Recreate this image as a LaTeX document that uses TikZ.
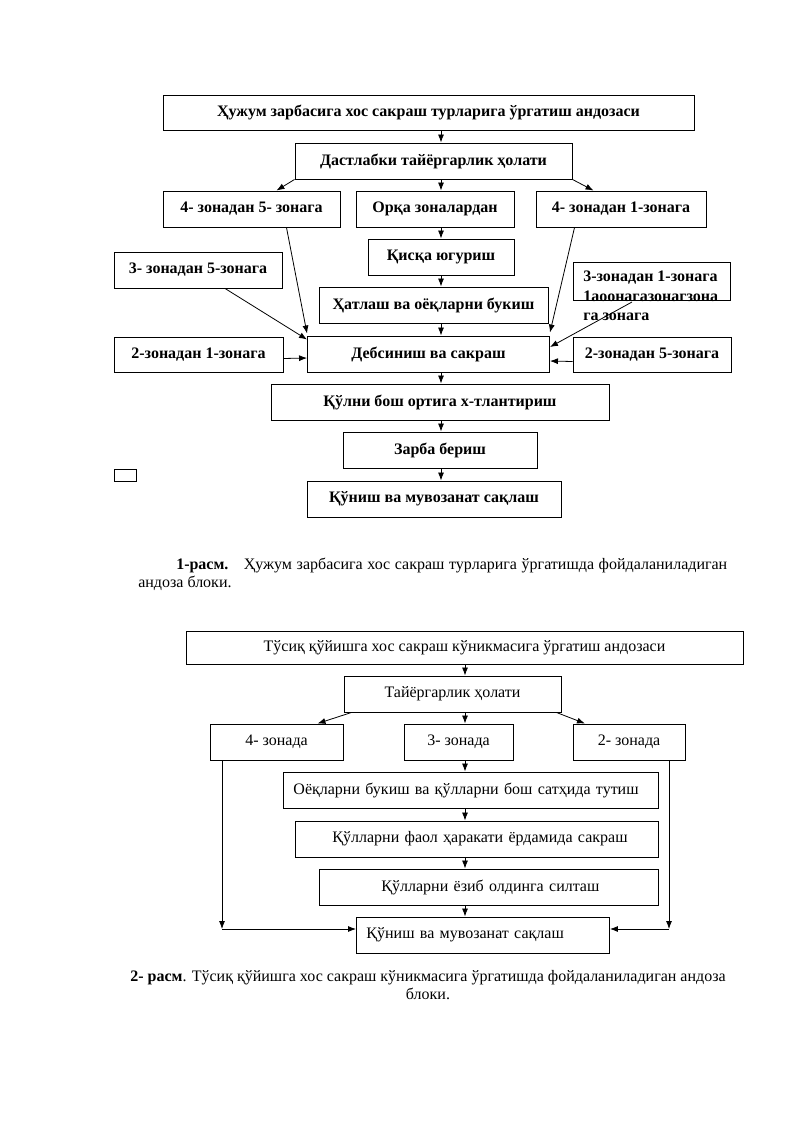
\documentclass[tikz,border=0pt]{standalone}
\usepackage{fontspec}
\setmainfont{Liberation Serif}
\usetikzlibrary{arrows.meta}

\newdimen\px
\px=0.75pt

\tikzset{
  box/.style={draw, line width=0.7pt, minimum height=36\px, inner sep=0pt},
  boxb/.style={box, font=\fontsize{12}{14}\selectfont\bfseries},
  boxl/.style={box, anchor=west, inner xsep=2\px, align=left},
  arr/.style={-{Latex[length=6pt,width=4.5pt]}, line width=0.6pt}
}

\begin{document}
\begin{tikzpicture}[x=0.75pt,y=-0.75pt,font=\fontsize{12}{14}\selectfont]
            \useasboundingbox (0,0) rectangle (800,1131);

            % 1-расм
            \node[boxb, minimum width=531\px, minimum height=35\px] (title) at (428.5,112.5) {Ҳужум зарбасига хос сакраш турларига ўргатиш андозаси};
            \node[boxb, minimum width=277\px] (dast) at (433.5,161) {Дастлабки тайёргарлик ҳолати};
            \node[boxb, minimum width=177\px] (z45) at (251.5,209) {4- зонадан 5- зонага};
            \node[boxb, minimum width=158\px] (orqa) at (435,209) {Орқа зоналардан};
            \node[boxb, minimum width=170\px] (z41) at (621,209) {4- зонадан 1-зонага};
            \node[boxb, minimum width=146\px] (qisqa) at (441,257) {Қисқа югуриш};
            \node[boxb, minimum width=168\px] (z35) at (198,270) {3- зонадан 5-зонага};
            \node[boxb, minimum width=229\px] (hatlash) at (433.5,305) {Ҳатлаш ва оёқларни букиш};
            \node[box, minimum width=157\px, minimum height=38\px] (z31) at (651.5,281) {};
            \node[anchor=north west, align=left, font=\fontsize{12}{14.5}\selectfont\bfseries, inner sep=0pt] (z31t) at (583,271) {3-зонадан 1-зонага\\1аоонагазонагзона\\га зонага};
            \node[boxb, minimum width=169\px, minimum height=35\px] (z21) at (198.5,354.5) {2-зонадан 1-зонага};
            \node[boxb, minimum width=242\px] (debs) at (428.5,354) {Дебсиниш ва сакраш};
            \node[boxb, minimum width=158\px, minimum height=35\px] (z25) at (652,354.5) {2-зонадан 5-зонага};
            \node[boxb, minimum width=338\px] (qulni) at (440,402) {Қўлни бош ортига х-тлантириш};
            \node[boxb, minimum width=194\px] (zarba) at (440,450) {Зарба бериш};
            \node[box, minimum width=22\px, minimum height=12\px] (bosh) at (125,475) {};
            \node[boxb, minimum width=254\px] (qunish) at (434,499) {Қўниш ва мувозанат сақлаш};

            \coordinate (axis) at (441,0);
            \coordinate (z31s) at (632,302);

            \draw[arr] (title.south -| axis) -- (dast.north -| axis);
            \draw[arr] (dast.south -| axis) -- (orqa.north -| axis);
            \draw[arr] (dast.south west) -- ([xshift=-64\px]z45.north east);
            \draw[arr] (dast.south east) -- ([xshift=58\px]z41.north west);
            \draw[arr] (orqa.south -| axis) -- (qisqa.north -| axis);
            \draw[arr] (qisqa.south -| axis) -- (hatlash.north -| axis);
            \draw[arr] (hatlash.south -| axis) -- (debs.north -| axis);
            \draw[arr] ([xshift=-54\px]z45.south east) -- ([yshift=2\px]debs.north west);
            \draw[arr] ([xshift=27\px]z35.south) -- ([yshift=-4\px]debs.north west);
            \draw[arr] ([yshift=-4\px]z21.east) -- ([yshift=-4\px]debs.west);
            \draw[arr] ([xshift=39\px]z41.south west) -- ([yshift=3\px]debs.north east);
            \draw[arr] (z31s) -- ([yshift=7\px]debs.east);
            \draw[arr] ([yshift=-7\px]z25.west) -- ([yshift=-7\px]debs.east);
            \draw[arr] (debs.south -| axis) -- (qulni.north -| axis);
            \draw[arr] (qulni.south -| axis) -- (zarba.north -| axis);
            \draw[arr] (zarba.south -| axis) -- (qunish.north -| axis);

            \node[anchor=base west, inner sep=0pt] (cap1a) at (176,569) {\makebox[551\px][s]{\textbf{1-расм.}\hspace{6pt} Ҳужум зарбасига хос сакраш турларига ўргатишда фойдаланиладиган}};
            \node[anchor=base west, inner sep=0pt] (cap1b) at (138,587) {андоза блоки.};

            % 2-расм
            \node[box, minimum width=557\px, minimum height=33\px] (title2) at (464.5,647.5) {Тўсиқ қўйишга хос сакраш кўникмасига ўргатиш андозаси};
            \node[box, minimum width=217\px] (tay) at (452.5,694) {Тайёргарлик ҳолати};
            \node[box, minimum width=133\px] (zn4) at (276.5,742) {4- зонада};
            \node[box, minimum width=109\px] (zn3) at (458.5,742) {3- зонада};
            \node[box, minimum width=112\px] (zn2) at (629,742) {2- зонада};
            \node[boxl, text width=371\px] (oyoq) at (283,790) {\hspace*{8\px}Оёқларни букиш ва қўлларни бош сатҳида тутиш};
            \node[boxl, text width=359\px] (faol) at (295,839) {\hspace*{35\px}Қўлларни фаол ҳаракати ёрдамида сакраш};
            \node[boxl, text width=335\px] (yozib) at (319,887) {\hspace*{60\px}Қўлларни ёзиб олдинга силташ};
            \node[boxl, text width=249\px] (qun2) at (356,935) {\hspace*{8\px}Қўниш ва мувозанат сақлаш};

            \coordinate (axis2) at (465,0);
            \coordinate (left2) at (222,929);
            \coordinate (right2) at (669,929);

            \draw[arr] (title2.south -| axis2) -- (tay.north -| axis2);
            \draw[arr] (tay.south -| axis2) -- (zn3.north -| axis2);
            \draw[arr] ([xshift=8\px]tay.south west) -- ([xshift=41\px]zn4.north);
            \draw[arr] ([xshift=-5\px]tay.south east) -- ([xshift=-44\px]zn2.north);
            \draw[arr] (zn3.south -| axis2) -- (oyoq.north -| axis2);
            \draw[arr] (oyoq.south -| axis2) -- (faol.north -| axis2);
            \draw[arr] (faol.south -| axis2) -- (yozib.north -| axis2);
            \draw[arr] (yozib.south -| axis2) -- (qun2.north -| axis2);
            \draw[arr] (zn4.south -| left2) -- (left2);
            \draw[arr] (left2) -- (left2 -| qun2.west);
            \draw[arr] (zn2.south -| right2) -- (right2);
            \draw[arr] (right2) -- (right2 -| qun2.east);

            \node[align=center, inner sep=0pt] (cap2) at (428,985) {\textbf{2- расм}. Тўсиқ қўйишга хос сакраш кўникмасига ўргатишда фойдаланиладиган андоза\\блоки.};

        \end{tikzpicture}
\end{document}
